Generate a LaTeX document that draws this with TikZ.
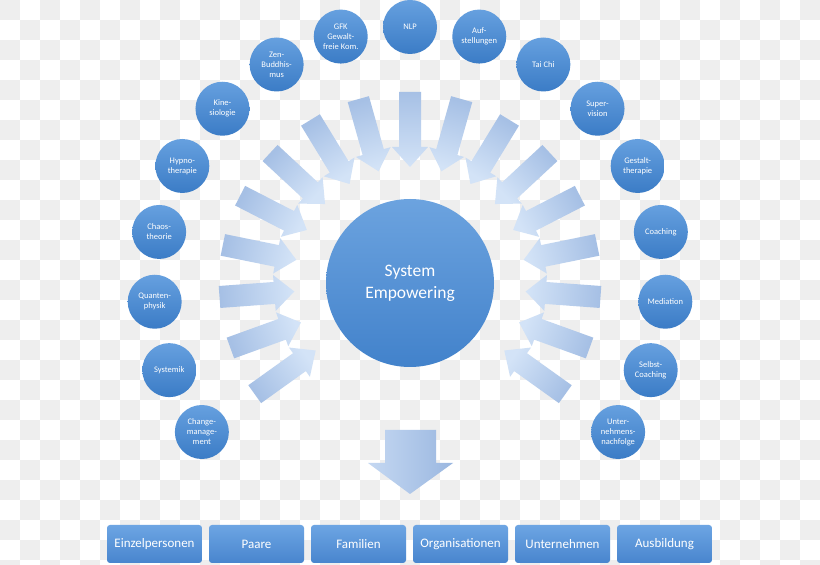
\documentclass[tikz,border=0pt]{standalone}
\usepackage{fontspec}
\setmainfont{Carlito}
\usetikzlibrary{calc}
\definecolor{chk}{HTML}{EEEEEE}
\definecolor{ctop}{HTML}{66A0DF}
\definecolor{cbot}{HTML}{3B7CC6}
\definecolor{mtop}{HTML}{6CA3DF}
\definecolor{mbot}{HTML}{4282CB}
\definecolor{atail}{HTML}{A6C0E5}
\definecolor{ahead}{HTML}{D3E3F7}
\definecolor{btop}{HTML}{6DA5E3}
\definecolor{bbot}{HTML}{4885CE}
\definecolor{dleft}{HTML}{C5D8F2}
\definecolor{dright}{HTML}{9AB7E0}
\begin{document}
\begin{tikzpicture}[x=1pt,y=1pt,
  smallc/.style={circle,minimum size=54pt,inner sep=0pt,top color=ctop,bottom color=cbot,text=white,align=center,font=\fontsize{8.5}{10}\selectfont},
  bigc/.style={circle,minimum size=168pt,inner sep=0pt,top color=mtop,bottom color=mbot,text=white,align=center,font=\fontsize{17.5}{22}\selectfont},
  target/.style={rounded corners=3pt,minimum width=95pt,minimum height=38pt,inner sep=0pt,top color=btop,bottom color=bbot,text=white,font=\fontsize{13}{15}\selectfont},
  ray/.style={top color=atail,bottom color=ahead},
  bigarrow/.style={left color=dleft,right color=dright}
]
\useasboundingbox (0,0) rectangle (820,565);
\fill[white] (0,0) rectangle (820,565);
\foreach \i in {0,...,40}{\foreach \j in {0,...,28}{
  \pgfmathtruncatemacro\p{mod(\i+\j,2)}
  \ifnum\p=0 \fill[chk] (20*\i,565-20*\j) rectangle ++(20,-20);\fi}}
\coordinate (C) at (410,282);
% rays
\foreach \k in {-8,...,8}{
  \pgfmathsetmacro\a{90+15.7*\k}
  \pgfmathsetmacro\sa{\a+270}
  \shade[ray,shading angle=\sa]
   ($(C)+(\a:191)+(\a+90:11)$) -- ($(C)+(\a:136)+(\a+90:11)$) -- ($(C)+(\a:136)+(\a+90:18)$) -- ($(C)+(\a:116)$) -- ($(C)+(\a:136)+(\a-90:18)$) -- ($(C)+(\a:136)+(\a-90:11)$) -- ($(C)+(\a:191)+(\a-90:11)$) -- cycle;
}
% small circles
\foreach \k/\tx/\nm in {-8/{Unter-\\nehmens-\\nachfolge}/unt, -7/{Selbst-\\Coaching}/sel, -6/{Mediation}/med, -5/{Coaching}/coa, -4/{Gestalt-\\therapie}/ges, -3/{Super-\\vision}/sup, -2/{Tai Chi}/tai, -1/{Auf-\\stellungen}/auf, 0/{NLP}/nlp, 1/{GFK\\Gewalt-\\freie Kom.}/gfk, 2/{Zen-\\Buddhis-\\mus}/zen, 3/{Kine-\\siologie}/kin, 4/{Hypno-\\therapie}/hyp, 5/{Chaos-\\theorie}/cha, 6/{Quanten-\\physik}/qua, 7/{Systemik}/sys, 8/{Change-\\manage-\\ment}/chg}{
  \pgfmathsetmacro\a{90+15.7*\k}
  \node[smallc] (\nm) at ($(C)+(\a:256)$) {\tx};
}
% center
\node[bigc] (core) at (C) {System\\Empowering};
% down arrow
\shade[bigarrow] (385,135) -- (385,102) -- (368,102) -- (410,71) -- (453,102) -- (436,102) -- (436,135) -- cycle;
% target boxes
\foreach \k/\tx in {0/Einzelpersonen,1/Paare,2/Familien,3/Organisationen,4/Unternehmen,5/Ausbildung}{
  \node[target] (b\k) at (154.5+102*\k,21) {\tx};
}
\end{tikzpicture}
\end{document}
